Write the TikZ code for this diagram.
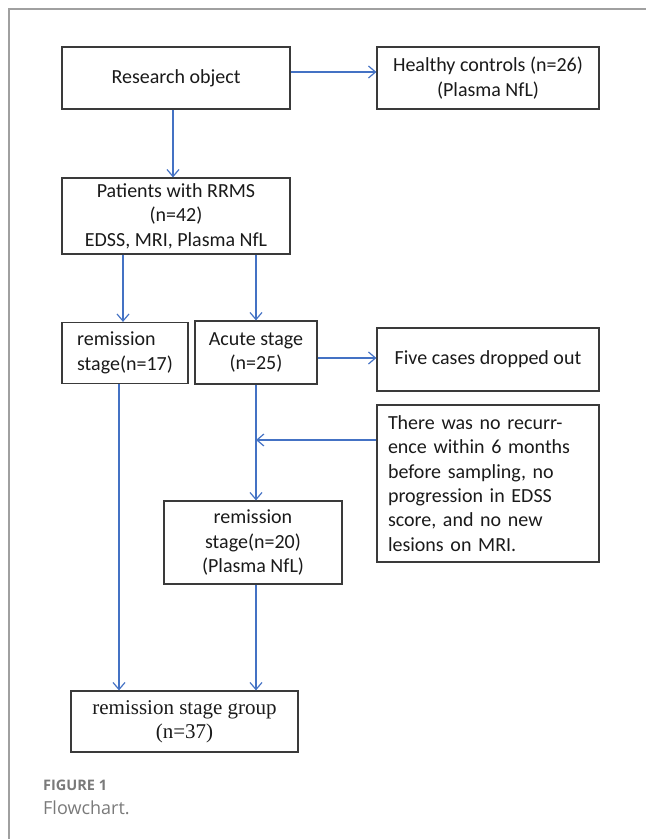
\documentclass[tikz,border=0pt]{standalone}
\usepackage{fontspec}
\setmainfont{Carlito}
\newfontfamily\tnrfont{Liberation Serif}
\newfontfamily\capfont{Open Sans}
\usetikzlibrary{arrows.meta}
\definecolor{arrblue}{HTML}{4472C4}
\definecolor{boxgray}{HTML}{3A3A3A}
\definecolor{framegray}{HTML}{A0A0A0}
\definecolor{capgray}{HTML}{7A7A7A}
\definecolor{txt}{HTML}{1A1A1A}
\tikzset{
  fbox/.style={draw=boxgray, line width=1.2pt, text=txt, align=center, inner sep=0pt,
    font=\fontsize{20}{24.4}\selectfont},
  arr/.style={draw=arrblue, line width=1.2pt, -{Straight Barb[length=7pt,width=12pt,line width=1.2pt]}},
  ln/.style={draw=arrblue, line width=1.2pt},
}
\begin{document}
\begin{tikzpicture}[x=1pt,y=-1pt]
\useasboundingbox (0,0) rectangle (646,839);
% frame
\draw[framegray, line width=1.3pt] (9,839) -- (9,9) -- (646,9);
% nodes
\node[fbox, minimum width=228pt, minimum height=62pt] (ro) at (176,78) {Research object};
\node[fbox, minimum width=222pt, minimum height=62pt] (hc) at (488,78) {Healthy controls (n=26)\\(Plasma NfL)};
\node[fbox, minimum width=228pt, minimum height=76pt] (pt) at (176,216) {Patients with RRMS\\(n=42)\\EDSS, MRI, Plasma NfL};
\node[fbox, align=left, minimum width=126pt, minimum height=61pt] (r17) at (125,353) {remission\\stage(n=17)};
\node[fbox, minimum width=122pt, minimum height=63pt] (ac) at (256,352.5) {Acute stage\\(n=25)};
\node[fbox, minimum width=222pt, minimum height=63pt] (five) at (488,359.5) {Five cases dropped out};
\node[fbox, align=left, text width=200pt, minimum width=222pt, minimum height=157pt] (ex) at (488,483.5)
  {There was no recurr-\\ence within 6 months\\before sampling, no\\progression in EDSS\\score, and no new\\lesions on MRI.};
\node[fbox, minimum width=178pt, minimum height=83pt] (r20) at (253,542.5) {remission\\stage(n=20)\\(Plasma NfL)};
\node[fbox, font=\tnrfont\fontsize{21}{24}\selectfont, minimum width=227pt, minimum height=61pt] (grp) at (184.5,721.5) {remission stage group\\(n=37)};
% caption
\node[anchor=west, inner sep=0pt, text=capgray, font=\capfont\bfseries\fontsize{14.5}{17}\selectfont] (fig) at (43,785) {FIGURE 1};
\node[anchor=west, inner sep=0pt, text=capgray, font=\capfont\fontsize{18}{21}\selectfont] (fc) at (43,808) {Flowchart.};
% connectors
\coordinate (j) at (256,440);
\draw[arr] (ro.east |- 0,72) -- (hc.west |- 0,72);
\draw[arr] (ro.south -| 173,0) -- (pt.north -| 173,0);
\draw[arr] (pt.south -| 123,0) -- (r17.north -| 123,0);
\draw[arr] (pt.south -| ac.north) -- (ac.north);
\draw[arr] (ac.east |- 0,358) -- (five.west |- 0,358);
\draw[arr] (ex.west |- j) -- (j);
\draw[arr] (ac.south) -- (ac.south |- r20.north);
\draw[arr] (r17.south -| 119,0) -- (grp.north -| 119,0);
\draw[arr] (r20.south -| 256,0) -- (grp.north -| 256,0);
\end{tikzpicture}
\end{document}
